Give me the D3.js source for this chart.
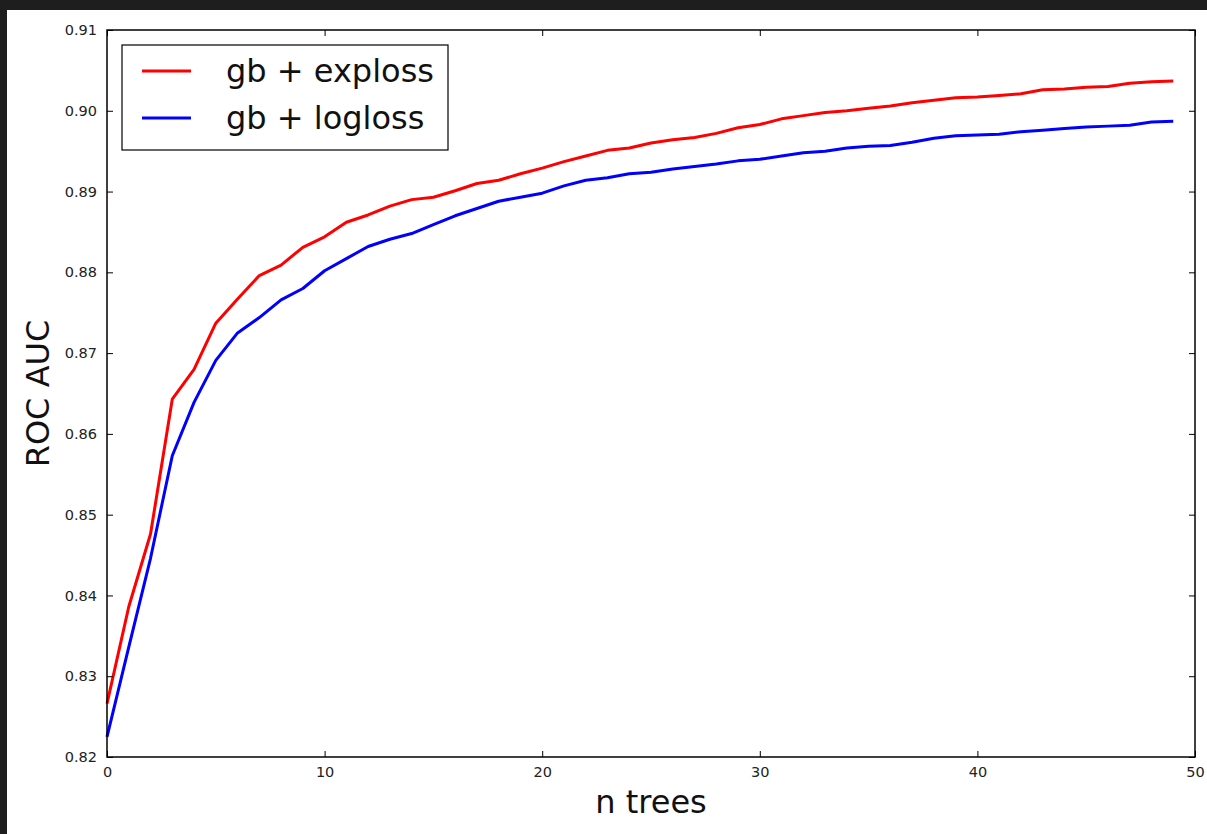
<!DOCTYPE html>
<html>
<head>
<meta charset="utf-8">
<script src="https://cdn.jsdelivr.net/npm/d3@7"></script>
<style>
  html, body { margin: 0; padding: 0; background: #1e1e1e; }
  svg { display: block; }
</style>
</head>
<body>
<svg id="chart" width="1207" height="834"></svg>
<script>
// Number of trees (boosting iterations)
const nTrees = d3.range(0, 50);

// ROC AUC per iteration for the two loss functions
const expLossAuc = [
  0.8266, 0.8386, 0.8476, 0.8643, 0.8680, 0.8737, 0.8767, 0.8796, 0.8809, 0.8831,
  0.8844, 0.8862, 0.8871, 0.8882, 0.8890, 0.8893, 0.8901, 0.8910, 0.8914, 0.8922,
  0.8929, 0.8937, 0.8944, 0.8951, 0.8954, 0.8960, 0.8964, 0.8967, 0.8972, 0.8979,
  0.8983, 0.8990, 0.8994, 0.8998, 0.9000, 0.9003, 0.9006, 0.9010, 0.9013, 0.9016,
  0.9017, 0.9019, 0.9021, 0.9026, 0.9027, 0.9029, 0.9030, 0.9034, 0.9036, 0.9037
];
const logLossAuc = [
  0.8225, 0.8336, 0.8446, 0.8573, 0.8639, 0.8691, 0.8725, 0.8744, 0.8766, 0.8780,
  0.8802, 0.8817, 0.8832, 0.8841, 0.8848, 0.8859, 0.8870, 0.8879, 0.8888, 0.8893,
  0.8898, 0.8907, 0.8914, 0.8917, 0.8922, 0.8924, 0.8928, 0.8931, 0.8934, 0.8938,
  0.8940, 0.8944, 0.8948, 0.8950, 0.8954, 0.8956, 0.8957, 0.8961, 0.8966, 0.8969,
  0.8970, 0.8971, 0.8974, 0.8976, 0.8978, 0.8980, 0.8981, 0.8982, 0.8986, 0.8987
];

const seriesNames = ["gb + exploss", "gb + logloss"];
const seriesColors = ["#ff0000", "#0000ff"];

const xTicks = [0, 10, 20, 30, 40, 50];
const yTicks = [0.82, 0.83, 0.84, 0.85, 0.86, 0.87, 0.88, 0.89, 0.90, 0.91];

const svg = d3.select("#chart");
const W = 1207, H = 834;

// white figure area inside the dark frame of the window
svg.append("rect").attr("x", 7).attr("y", 10).attr("width", W - 7).attr("height", H - 10).attr("fill", "#ffffff");

const plot = { left: 107, right: 1195, top: 30, bottom: 757 };

const x = d3.scaleLinear().domain([0, 50]).range([plot.left, plot.right]);
const y = d3.scaleLinear().domain([0.82, 0.91]).range([plot.bottom, plot.top]);

const font = "'DejaVu Sans', sans-serif";
const tickLen = 6;

// Curves
const line = d3.line().x(d => x(d[0])).y(d => y(d[1]));
const seriesData = [expLossAuc, logLossAuc];
seriesData.forEach((vals, i) => {
  svg.append("path")
    .datum(nTrees.map((n, k) => [n, vals[k]]))
    .attr("d", line)
    .attr("fill", "none")
    .attr("stroke", seriesColors[i])
    .attr("stroke-width", 3)
    .attr("stroke-linejoin", "round");
});

// Axes (ticks point inward, on all four sides)
const styleAxis = g => {
  g.select(".domain").remove();
  g.selectAll(".tick line").attr("stroke", "#000").attr("stroke-width", 1);
  g.selectAll(".tick text").attr("fill", "#222").attr("font-family", font).attr("font-size", 14.5);
};

svg.append("g")
  .attr("transform", `translate(0,${plot.bottom})`)
  .call(d3.axisBottom(x).tickValues(xTicks).tickFormat(d3.format("d")).tickSizeInner(-tickLen).tickPadding(10))
  .call(styleAxis);

svg.append("g")
  .attr("transform", `translate(0,${plot.top})`)
  .call(d3.axisTop(x).tickValues(xTicks).tickFormat("").tickSizeInner(-tickLen))
  .call(styleAxis);

svg.append("g")
  .attr("transform", `translate(${plot.left},0)`)
  .call(d3.axisLeft(y).tickValues(yTicks).tickFormat(d3.format(".2f")).tickSizeInner(-tickLen).tickPadding(10))
  .call(styleAxis);

svg.append("g")
  .attr("transform", `translate(${plot.right},0)`)
  .call(d3.axisRight(y).tickValues(yTicks).tickFormat("").tickSizeInner(-tickLen))
  .call(styleAxis);

// Frame
svg.append("rect")
  .attr("x", plot.left).attr("y", plot.top)
  .attr("width", plot.right - plot.left).attr("height", plot.bottom - plot.top)
  .attr("fill", "none").attr("stroke", "#000").attr("stroke-width", 1.5);

// Axis titles
svg.append("text")
  .attr("x", (plot.left + plot.right) / 2).attr("y", 813)
  .attr("text-anchor", "middle")
  .attr("font-family", font).attr("font-size", 32).attr("fill", "#111")
  .text("n trees");

svg.append("text")
  .attr("transform", `translate(49,${(plot.top + plot.bottom) / 2}) rotate(-90)`)
  .attr("text-anchor", "middle")
  .attr("font-family", font).attr("font-size", 32).attr("fill", "#111")
  .text("ROC AUC");

// Legend
const legend = svg.append("g");
legend.append("rect")
  .attr("x", 122).attr("y", 45).attr("width", 326).attr("height", 105)
  .attr("fill", "#fff").attr("stroke", "#000").attr("stroke-width", 1.2);

seriesNames.forEach((name, i) => {
  const ly = 71 + i * 47;
  legend.append("line")
    .attr("x1", 142).attr("x2", 191).attr("y1", ly).attr("y2", ly)
    .attr("stroke", seriesColors[i]).attr("stroke-width", 3);
  legend.append("text")
    .attr("x", 226).attr("y", ly + 11)
    .attr("font-family", font).attr("font-size", 32).attr("fill", "#111")
    .text(name);
});
</script>
</body>
</html>
